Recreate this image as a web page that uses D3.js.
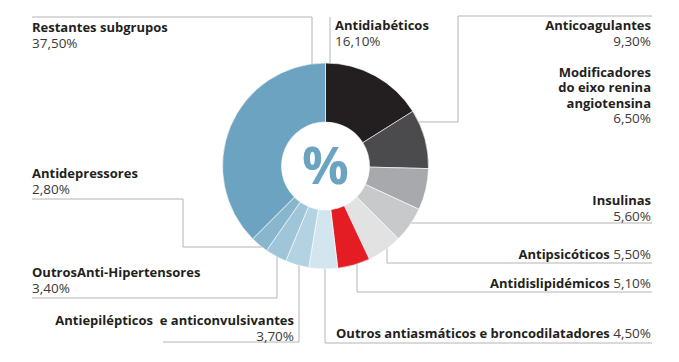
<!DOCTYPE html>
<html>
<head>
  <meta charset="utf-8"/>
  <script src="https://d3js.org/d3.v7.min.js"></script>
  <style>
    html, body { margin: 0; padding: 0; background: #fff; overflow: hidden; }
    svg { display: block; }
    .lbl { font-family: "Open Sans", sans-serif; font-size: 13px; fill: #231f20; white-space: pre; }
    .lbl .name { font-weight: 700; }
    .lbl .pct { font-weight: 400; fill: #3a3a3a; font-size: 13.5px; }
    .leader { fill: none; stroke: #b4b4b4; stroke-width: 1; }
  </style>
</head>
<body>
<div id="chart"></div>
<script>
// slices, clockwise from 12 o'clock
const names = [
  "Antidiabéticos", "Anticoagulantes", "Modificadores do eixo renina angiotensina",
  "Insulinas", "Antipsicóticos", "Antidislipidémicos",
  "Outros antiasmáticos e broncodilatadores", "Antiepilépticos  e anticonvulsivantes",
  "OutrosAnti-Hipertensores", "Antidepressores", "Restantes subgrupos"
];
const values = [16.1, 9.3, 6.5, 5.6, 5.5, 5.1, 4.5, 3.7, 3.4, 2.8, 37.5];
const colors = [
  "#231f20", "#4b4b4d", "#a7a9ac", "#c8c9cb", "#e2e2e3", "#e41d25",
  "#d3e5ef", "#b4d3e2", "#9fc5d8", "#88b6cd", "#6ca3c0"
];

const width = 679, height = 362;
const cx = 325.5, cy = 166, rOuter = 103, rInner = 44;
const lineGap = 16;

const fmt = v => d3.format(".2f")(v).replace(".", ",") + "%";

// label layout: text lines, position, anchor, leader route (ends on donut edge)
const layout = [
  { lines: ["Antidiabéticos"], x: 335, y: 29.5, anchor: "start", route: [[330, 17]], to: "v" },
  { lines: ["Anticoagulantes"], x: 651, y: 30, anchor: "end", route: [[652, 16], [458, 16], [458, 122]], to: "h" },
  { lines: ["Modificadores", "do eixo renina", "angiotensina"], x: 651, y: 76.5, anchor: "end", route: null, gap: 15.5 },
  { lines: ["Insulinas"], x: 651, y: 204.5, anchor: "end", route: [[652, 223]], to: "h" },
  { lines: ["Antipsicóticos"], x: 651, y: 259, anchor: "end", inline: true, route: [[652, 263], [387, 263]], to: "v" },
  { lines: ["Antidislipidémicos"], x: 651, y: 288, anchor: "end", inline: true, route: [[652, 292], [357, 292]], to: "v" },
  { lines: ["Outros antiasmáticos e broncodilatadores"], x: 651, y: 338, anchor: "end", inline: true, route: [[652, 343], [325, 343]], to: "v" },
  { lines: ["Antiepilépticos  e anticonvulsivantes"], x: 294, y: 324.5, anchor: "end", route: [[163, 342], [299, 342]], to: "v" },
  { lines: ["OutrosAnti-Hipertensores"], x: 32, y: 276.5, anchor: "start", route: [[32, 298], [277, 298]], to: "v" },
  { lines: ["Antidepressores"], x: 32, y: 177.5, anchor: "start", route: [[32, 199], [183, 199], [183, 247]], to: "h" },
  { lines: ["Restantes subgrupos"], x: 32, y: 32, anchor: "start", route: [[32, 17], [312, 17]], to: "v" }
];

const svg = d3.select("#chart").append("svg")
  .attr("width", width).attr("height", height);

const pie = d3.pie().sort(null).value(d => d);
const arc = d3.arc().innerRadius(rInner).outerRadius(rOuter);

const g = svg.append("g").attr("transform", `translate(${cx},${cy})`);
g.selectAll("path")
  .data(pie(values))
  .enter().append("path")
  .attr("d", arc)
  .attr("fill", (d, i) => colors[i])
  .attr("stroke", "#fff")
  .attr("stroke-width", 0.6);

g.append("text")
  .attr("x", 0).attr("y", -1)
  .attr("dy", "0.36em")
  .attr("text-anchor", "middle")
  .style("font-family", "'Open Sans', sans-serif")
  .style("font-weight", 700)
  .style("font-size", "52px")
  .style("fill", "#6ca3c0")
  .text("%");

// leaders
const line = d3.line();
layout.forEach((l, i) => {
  if (!l.route) return;
  const pts = l.route.slice();
  const last = pts[pts.length - 1];
  if (l.to === "v") {
    const dx = last[0] - cx;
    const off = Math.sqrt(rOuter * rOuter - dx * dx);
    const yEdge = last[1] < cy ? cy - off : cy + off;
    pts.push([last[0], yEdge]);
  } else {
    const dy = last[1] - cy;
    const off = Math.sqrt(rOuter * rOuter - dy * dy);
    const xEdge = last[0] > cx ? cx + off : cx - off;
    pts.push([xEdge, last[1]]);
  }
  svg.append("path").attr("class", "leader").attr("d", line(pts));
});

// labels
layout.forEach((l, i) => {
  const t = svg.append("text").attr("class", "lbl")
    .attr("text-anchor", l.anchor);
  const gap = l.gap || lineGap;
  if (l.inline) {
    const ts = t.append("tspan").attr("x", l.x).attr("y", l.y);
    ts.append("tspan").attr("class", "name").text(l.lines[0] + " ");
    ts.append("tspan").attr("class", "pct").text(fmt(values[i]));
  } else {
    l.lines.forEach((s, j) => {
      t.append("tspan").attr("class", "name")
        .attr("x", l.x).attr("y", l.y + j * gap).text(s);
    });
    t.append("tspan").attr("class", "pct")
      .attr("x", l.x).attr("y", l.y + l.lines.length * gap).text(fmt(values[i]));
  }
});
</script>
</body>
</html>
